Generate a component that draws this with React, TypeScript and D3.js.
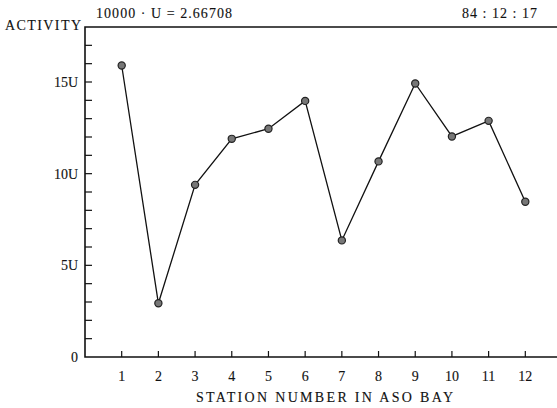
import React from 'react';
import * as d3 from 'd3';

const stations = [1, 2, 3, 4, 5, 6, 7, 8, 9, 10, 11, 12];
const activity = [15.9, 2.93, 9.39, 11.9, 12.45, 13.97, 6.36, 10.67, 14.92, 12.03, 12.88, 8.47];
const yMinorTicks = d3.range(1, 18);
const yLabels = [
  { v: 0, t: '0' },
  { v: 5, t: '5U' },
  { v: 10, t: '10U' },
  { v: 15, t: '15U' },
];
const headerLeft = '10000 · U = 2.66708';
const headerRight = '84 : 12 : 17';

const W = 557;
const H = 408;
const font = '"Liberation Serif", "Times New Roman", serif';

export default function App() {
  const x = d3.scaleLinear().domain([0, 13]).range([85, 562]);
  const y = d3.scaleLinear().domain([0, 18]).range([357, 27]);

  const line = d3.line<number>()
    .x((_, i) => x(stations[i]))
    .y(d => y(d));

  return (
    <svg width={W} height={H} style={{ position: 'absolute', left: 0, top: 0, background: '#fff' }}
      fontFamily={font}>
      {/* frame: left axis, top and bottom lines */}
      <path d={`M${W},${y(18)}H${x(0)}V${y(0)}H${W}`} fill="none" stroke="#111" strokeWidth={1.6} />

      {yMinorTicks.map(v => (
        <line key={v} x1={x(0)} x2={x(0) + 7} y1={y(v)} y2={y(v)} stroke="#111" strokeWidth={1.2} />
      ))}

      {stations.map(s => (
        <line key={s} x1={x(s)} x2={x(s)} y1={y(0)} y2={y(0) - 6} stroke="#111" strokeWidth={1.2} />
      ))}

      <path d={line(activity) ?? ''} fill="none" stroke="#111" strokeWidth={1.3} />
      {activity.map((v, i) => (
        <circle key={i} cx={x(stations[i])} cy={y(v)} r={3.6} fill="#777" stroke="#222" strokeWidth={1.2} />
      ))}

      <g fill="#111" stroke="#111" strokeWidth={0.12} fontSize={14}>
        {yLabels.map(d => (
          <text key={d.v} x={78} y={y(d.v) + 5} textAnchor="end">{d.t}</text>
        ))}
        {stations.map(s => (
          <text key={s} x={x(s)} y={y(0) + 24} textAnchor="middle">{s}</text>
        ))}
        <text x={5} y={30} textLength={76} lengthAdjust="spacing">ACTIVITY</text>
        <text x={96} y={18} textLength={136} lengthAdjust="spacing">{headerLeft}</text>
        <text x={462} y={18} textLength={75} lengthAdjust="spacing">{headerRight}</text>
        <text x={196} y={402} textLength={257} lengthAdjust="spacing">STATION NUMBER IN ASO BAY</text>
      </g>
    </svg>
  );
}
